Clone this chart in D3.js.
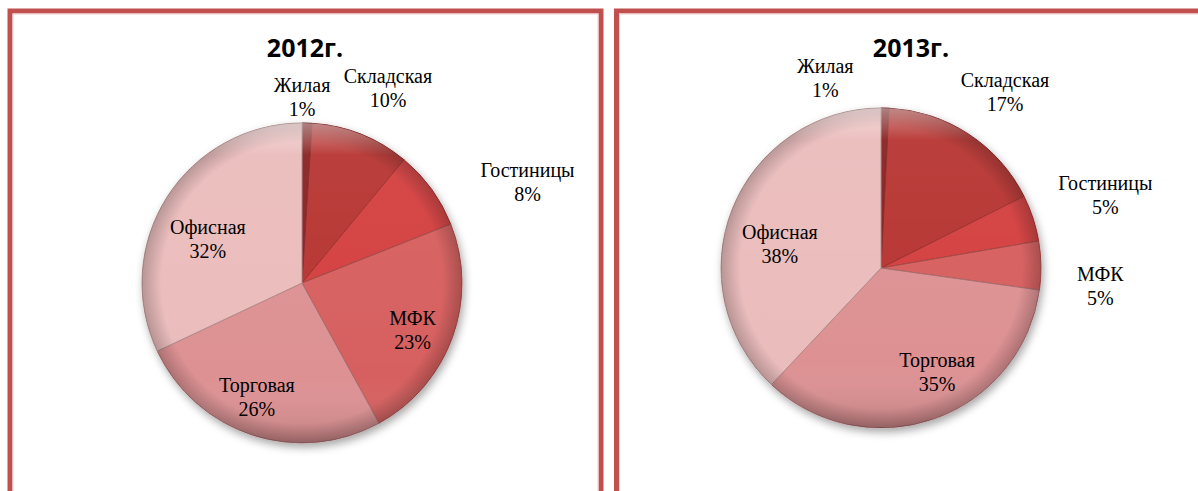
<!DOCTYPE html>
<html>
<head>
<meta charset="utf-8">
<script src="https://cdn.jsdelivr.net/npm/d3@7"></script>
<style>
  body { margin: 0; background: #fff; }
  .title { font: 700 25px "Open Sans", sans-serif; }
  .lbl { font: 20px "Liberation Serif", "Times New Roman", serif; fill: #000; }
</style>
</head>
<body>
<div class="container"></div>
<script>
// data
let categories = ["Жилая", "Складская", "Гостиницы", "МФК", "Торговая", "Офисная"];
let values2012 = [1, 10, 8, 23, 26, 32];
let values2013 = [0.8, 16.8, 4.7, 4.9, 34.8, 38];
let titles = ["2012г.", "2013г."];
let colors = ["#8a2222", "#b73433", "#d4403f", "#d6615f", "#dd9193", "#ebbcbc"];

let width = 1198, height = 491;

// panel layout (frame, pie center, label placement)
let panels = [
  {values: values2012, title: titles[0], x: 10, w: 591, cx: 302, cy: 283, r: 160, tx: 305,
   labelR: [186, 213, 247, 120, 123, 104], labelShift: [-1.8, 2.2, 11.9, 3.2, 3.5, -7.3]},
  {values: values2013, title: titles[1], x: 616.5, w: 700, cx: 881, cy: 268, r: 160, tx: 911,
   labelR: [198, 215, 236, 220, 118, 104], labelShift: [-17.8, 2.1, 0.1, 5.6, -8.9, -8.2]}
];

let svg = d3.select(".container").append("svg")
    .attr("width", width)
    .attr("height", height);

let defs = svg.append("defs");

let shadow = defs.append("filter").attr("id", "shadow")
    .attr("x", "-20%").attr("y", "-20%").attr("width", "140%").attr("height", "140%");
shadow.append("feDropShadow")
    .attr("dx", 2).attr("dy", 4).attr("stdDeviation", 4)
    .attr("flood-color", "#000").attr("flood-opacity", 0.35);

let rim = defs.append("radialGradient").attr("id", "rim");
rim.append("stop").attr("offset", "0%").attr("stop-color", "#000").attr("stop-opacity", 0);
rim.append("stop").attr("offset", "88%").attr("stop-color", "#000").attr("stop-opacity", 0);
rim.append("stop").attr("offset", "100%").attr("stop-color", "#000").attr("stop-opacity", 0.22);

let shine = defs.append("linearGradient").attr("id", "shine")
    .attr("x1", 0).attr("y1", 0).attr("x2", 0).attr("y2", 1);
shine.append("stop").attr("offset", "0%").attr("stop-color", "#fff").attr("stop-opacity", 0.45);
shine.append("stop").attr("offset", "10%").attr("stop-color", "#fff").attr("stop-opacity", 0.05);
shine.append("stop").attr("offset", "80%").attr("stop-color", "#fff").attr("stop-opacity", 0);
shine.append("stop").attr("offset", "100%").attr("stop-color", "#000").attr("stop-opacity", 0.15);

let pie = d3.pie().sort(null).value(d => d);
let color = d3.scaleOrdinal().domain(categories).range(colors);

panels.forEach(p => {
  // frame
  svg.append("rect")
    .attr("x", p.x).attr("y", 11)
    .attr("width", p.w).attr("height", 600)
    .style("fill", "none")
    .style("stroke", "#c0504d")
    .style("stroke-width", 5);
  svg.append("rect")
    .attr("x", p.x + 3).attr("y", 14)
    .attr("width", p.w - 6).attr("height", 600)
    .style("fill", "none")
    .style("stroke", "#f2d0cf")
    .style("stroke-width", 1);

  svg.append("text")
    .attr("class", "title")
    .attr("text-anchor", "middle")
    .attr("x", p.tx).attr("y", 57)
    .text(p.title);

  let g = svg.append("g").attr("transform", "translate(" + p.cx + "," + p.cy + ")");
  let arc = d3.arc().innerRadius(0).outerRadius(p.r);
  let arcs = pie(p.values);
  let total = d3.sum(p.values);

  let slices = g.append("g").attr("filter", "url(#shadow)");
  slices.selectAll("path")
    .data(arcs)
    .enter().append("path")
      .attr("d", arc)
      .style("fill", (d, i) => color(categories[i]))
      .style("stroke", (d, i) => d3.color(color(categories[i])).darker(0.8))
      .style("stroke-width", 1);

  g.append("circle").attr("r", p.r).style("fill", "url(#rim)");
  g.append("circle").attr("r", p.r).style("fill", "url(#shine)");

  let labels = g.selectAll(".lbl")
    .data(arcs)
    .enter().append("text")
      .attr("class", "lbl")
      .attr("text-anchor", "middle")
      .attr("transform", (d, i) => {
        let a = (d.startAngle + d.endAngle) / 2 + p.labelShift[i] * Math.PI / 180;
        let r = p.labelR[i];
        return "translate(" + (r * Math.sin(a)) + "," + (-r * Math.cos(a)) + ")";
      });
  labels.append("tspan")
    .attr("x", 0).attr("y", -5)
    .text((d, i) => categories[i]);
  labels.append("tspan")
    .attr("x", 0).attr("y", 19)
    .text(d => Math.round(d.value / total * 100) + "%");
});
</script>
</body>
</html>
